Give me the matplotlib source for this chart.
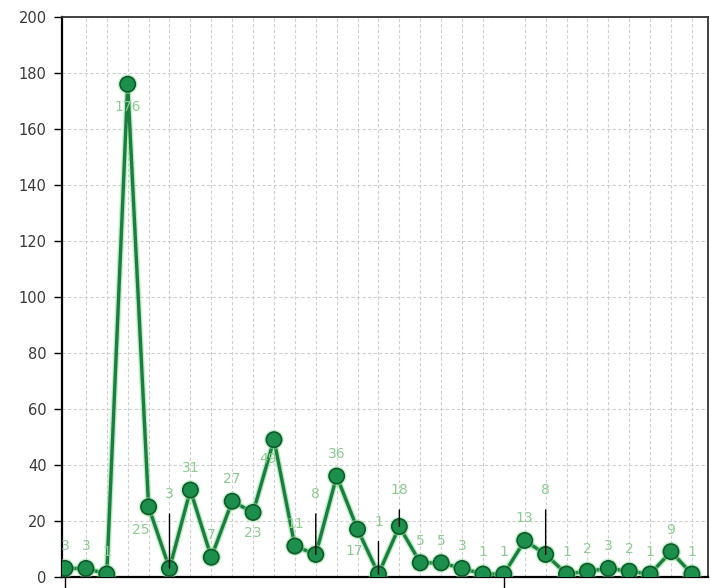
import matplotlib
matplotlib.use("Agg")
import matplotlib.pyplot as plt
import matplotlib.patheffects as pe
import numpy as np

# ── data ───────────────────────────────────────────────────────────────────
values = [3, 3, 1, 176, 25, 3, 31, 7, 27, 23, 49, 11, 8, 36, 17, 1, 18,
          5, 5, 3, 1, 1, 13, 8, 1, 2, 3, 2, 1, 9, 1]
labels = ["3", "3", "1", "176", "25", "3", "31", "7", "27", "23", "49", "11",
          "8", "36", "17", "1", "18", "5", "5", "3", "1", "1", "13", "8",
          "1", "2", "3", "2", "1", "9", "1"]
y_ticks = list(range(0, 201, 20))

# ── style ──────────────────────────────────────────────────────────────────
LINE   = "#1b7d3f"
HALO   = "#8fe39c"
MARKER = "#1d8f4c"
EDGE   = "#0f5a2b"
LABEL  = "#8ccb92"
GRID   = "#d0d0d0"
TICK   = "#3a3a3a"

# label offsets in pixels (dx, dy); default is above the point
offsets = {3: (0, -23), 4: (-8, -23), 9: (0, -21), 10: (-6, -19), 14: (-3, -22)}
# labels with a black leader line down to the point
leaders = {5: 74, 12: 60, 15: 52, 16: 36, 23: 64}

x = np.arange(len(values))

fig = plt.figure(figsize=(7.11, 5.88), dpi=100)
ax = fig.add_axes([0.0872, 0.019, 0.9086, 0.952])

ax.plot(x, values, color=HALO, lw=4.5, alpha=0.5, solid_joinstyle="round", zorder=2)
ax.plot(x, values, color=LINE, lw=2.4, marker="o", ms=11,
        markerfacecolor=MARKER, markeredgecolor=EDGE, markeredgewidth=1.2,
        zorder=3,
        path_effects=[pe.Stroke(linewidth=3.2, foreground=HALO, alpha=0.5), pe.Normal()])

for i, (v, t) in enumerate(zip(values, labels)):
    if i in leaders:
        dy = leaders[i]
        ax.annotate(t, xy=(i, v), xytext=(0, dy), textcoords="offset pixels",
                    ha="center", va="center", fontsize=10, color=LABEL, zorder=4,
                    arrowprops=dict(arrowstyle="-", color="black", lw=1.0,
                                    shrinkA=7, shrinkB=0))
    else:
        dx, dy = offsets.get(i, (0, 22))
        ax.annotate(t, xy=(i, v), xytext=(dx, dy), textcoords="offset pixels",
                    ha="center", va="center", fontsize=10, color=LABEL, zorder=4)

ax.set_xlim(-0.144, 30.77)
ax.set_ylim(0, 200)
ax.set_yticks(y_ticks)
ax.set_yticklabels([str(t) for t in y_ticks], fontsize=10.5, color=TICK)
ax.tick_params(axis="y", length=6, width=1, color="black", pad=5)

ax.set_xticks(x, minor=True)
ax.set_xticks([0, 21])
ax.set_xticklabels([])
ax.tick_params(axis="x", which="major", length=9, width=1, color="black")
ax.tick_params(axis="x", which="minor", length=0)

ax.grid(axis="x", which="minor", color=GRID, linestyle=(0, (3, 2)), lw=0.8, zorder=0)
ax.grid(axis="y", which="major", color=GRID, linestyle=(0, (3, 2)), lw=0.8, zorder=0)

for side in ["left", "bottom"]:
    ax.spines[side].set_color("black")
    ax.spines[side].set_linewidth(1.6)
for side in ["top", "right"]:
    ax.spines[side].set_color("#333333")
    ax.spines[side].set_linewidth(1.3)

fig.savefig("out.png", dpi=100, facecolor="white")
